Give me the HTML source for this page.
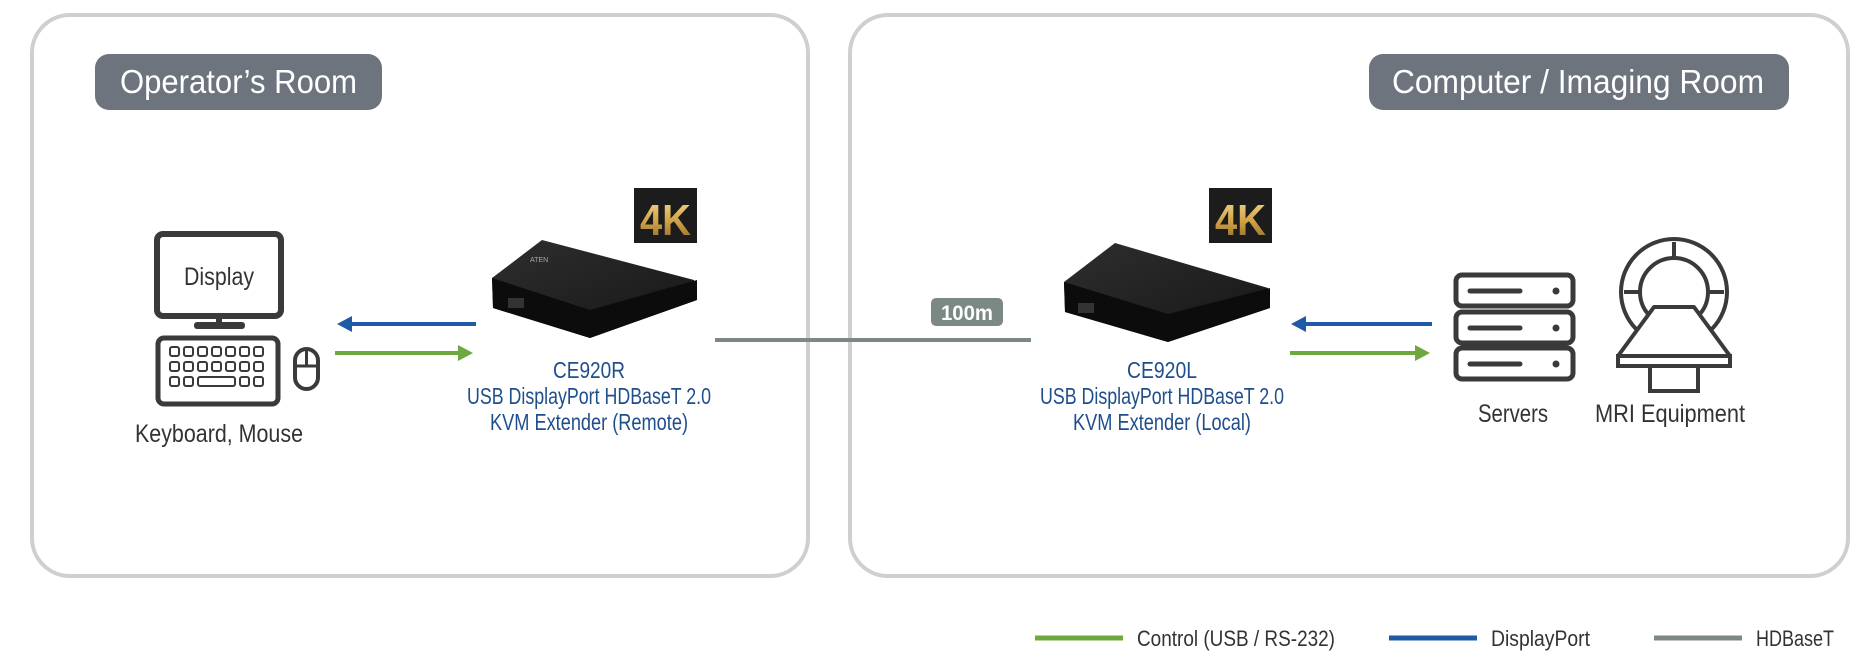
<!DOCTYPE html>
<html><head><meta charset="utf-8"><style>
html,body{margin:0;padding:0;background:#fff;width:1867px;height:672px;overflow:hidden}
svg{display:block}
text{font-family:"Liberation Sans Narrow","Liberation Sans",sans-serif}
</style></head><body>
<svg width="1867" height="672" viewBox="0 0 1867 672" xmlns="http://www.w3.org/2000/svg">
<defs>
<linearGradient id="gold" x1="0" y1="0" x2="0" y2="1"><stop offset="0" stop-color="#f6dc96"/><stop offset="0.5" stop-color="#d2a448"/><stop offset="1" stop-color="#8a6226"/></linearGradient>
<linearGradient id="top" x1="0" y1="0" x2="1" y2="1"><stop offset="0" stop-color="#2e2e2e"/><stop offset="1" stop-color="#161616"/></linearGradient>
</defs>
<rect x="32" y="15" width="776" height="561" rx="38" fill="#fff" stroke="#cfcfcf" stroke-width="4"/>
<rect x="850" y="15" width="998" height="561" rx="38" fill="#fff" stroke="#cfcfcf" stroke-width="4"/>
<rect x="95" y="54" width="287" height="56" rx="14" fill="#6e747d"/>
<text x="120" y="93" font-size="33" fill="#fff" textLength="237" lengthAdjust="spacingAndGlyphs">Operator’s Room</text>
<rect x="1369" y="54" width="420" height="56" rx="14" fill="#6e747d"/>
<text x="1392" y="93" font-size="33" fill="#fff" textLength="372" lengthAdjust="spacingAndGlyphs">Computer / Imaging Room</text>

<rect x="157" y="234" width="124" height="82" rx="6" fill="#fff" stroke="#3a3a3a" stroke-width="6"/>
<text x="219" y="285" font-size="25" fill="#333" text-anchor="middle" textLength="70" lengthAdjust="spacingAndGlyphs">Display</text>
<rect x="216" y="316" width="6" height="9" fill="#3a3a3a"/>
<rect x="194" y="322" width="51" height="7" rx="3" fill="#3a3a3a"/>
<rect x="158" y="338" width="120" height="66" rx="6" fill="#fff" stroke="#3a3a3a" stroke-width="5"/>
<g fill="none" stroke="#3a3a3a" stroke-width="2">
<rect x="170" y="347" width="9" height="9" rx="2"/><rect x="184" y="347" width="9" height="9" rx="2"/><rect x="198" y="347" width="9" height="9" rx="2"/><rect x="212" y="347" width="9" height="9" rx="2"/><rect x="226" y="347" width="9" height="9" rx="2"/><rect x="240" y="347" width="9" height="9" rx="2"/><rect x="254" y="347" width="9" height="9" rx="2"/>
<rect x="170" y="362" width="9" height="9" rx="2"/><rect x="184" y="362" width="9" height="9" rx="2"/><rect x="198" y="362" width="9" height="9" rx="2"/><rect x="212" y="362" width="9" height="9" rx="2"/><rect x="226" y="362" width="9" height="9" rx="2"/><rect x="240" y="362" width="9" height="9" rx="2"/><rect x="254" y="362" width="9" height="9" rx="2"/>
<rect x="170" y="377" width="9" height="9" rx="2"/><rect x="184" y="377" width="9" height="9" rx="2"/><rect x="198" y="377" width="37" height="9" rx="2"/><rect x="240" y="377" width="9" height="9" rx="2"/><rect x="254" y="377" width="9" height="9" rx="2"/>
</g>
<rect x="295" y="349" width="23" height="40" rx="11.5" fill="#fff" stroke="#3a3a3a" stroke-width="4"/>
<line x1="295" y1="366" x2="318" y2="366" stroke="#3a3a3a" stroke-width="3"/>
<line x1="306.5" y1="350" x2="306.5" y2="366" stroke="#3a3a3a" stroke-width="3"/>
<text x="219" y="442" font-size="25" fill="#333" text-anchor="middle" textLength="168" lengthAdjust="spacingAndGlyphs">Keyboard, Mouse</text>

<line x1="476" y1="324" x2="350" y2="324" stroke="#1f5aa6" stroke-width="4"/>
<path d="M337,324 L352,316 L352,332 z" fill="#1f5aa6"/>
<line x1="335" y1="353" x2="460" y2="353" stroke="#6fa83f" stroke-width="4"/>
<path d="M473,353 L458,345 L458,361 z" fill="#6fa83f"/>

<rect x="634" y="188" width="63" height="55" fill="#1c1c1c"/>
<text x="640" y="235" font-size="44" font-weight="bold" fill="url(#gold)" font-family="Liberation Sans" textLength="51" lengthAdjust="spacingAndGlyphs">4K</text>
<rect x="1209" y="188" width="63" height="55" fill="#1c1c1c"/>
<text x="1215" y="235" font-size="44" font-weight="bold" fill="url(#gold)" font-family="Liberation Sans" textLength="51" lengthAdjust="spacingAndGlyphs">4K</text>

<path d="M542,240 L694,280 L697,300 L590,338 L493,308 L492,278 z" fill="url(#top)"/>
<path d="M492,278 L590,310 L697,280 L697,300 L590,338 L493,308 z" fill="#0c0c0c"/>
<rect x="508" y="298" width="16" height="10" fill="#333"/>
<text x="530" y="262" font-size="7" fill="#aaa" font-family="Liberation Sans">ATEN</text>
<path d="M1115,243 L1268,288 L1270,308 L1168,342 L1065,312 L1064,282 z" fill="url(#top)"/>
<path d="M1064,282 L1168,314 L1270,288 L1270,308 L1168,342 L1065,312 z" fill="#0c0c0c"/>
<rect x="1078" y="303" width="16" height="10" fill="#333"/>

<g fill="#1f4e8c" text-anchor="middle" font-size="23">
<text x="589" y="378" textLength="72" lengthAdjust="spacingAndGlyphs">CE920R</text>
<text x="589" y="404" textLength="244" lengthAdjust="spacingAndGlyphs">USB DisplayPort HDBaseT 2.0</text>
<text x="589" y="430" textLength="198" lengthAdjust="spacingAndGlyphs">KVM Extender (Remote)</text>
<text x="1162" y="378" textLength="70" lengthAdjust="spacingAndGlyphs">CE920L</text>
<text x="1162" y="404" textLength="244" lengthAdjust="spacingAndGlyphs">USB DisplayPort HDBaseT 2.0</text>
<text x="1162" y="430" textLength="178" lengthAdjust="spacingAndGlyphs">KVM Extender (Local)</text>
</g>

<line x1="715" y1="340" x2="1031" y2="340" stroke="#7b8884" stroke-width="4"/>
<rect x="931" y="298" width="72" height="28" rx="5" fill="#7b8884"/>
<text x="967" y="320" font-size="21" fill="#fff" text-anchor="middle" font-weight="bold" textLength="52" lengthAdjust="spacingAndGlyphs">100m</text>

<line x1="1432" y1="324" x2="1305" y2="324" stroke="#1f5aa6" stroke-width="4"/>
<path d="M1291,324 L1306,316 L1306,332 z" fill="#1f5aa6"/>
<line x1="1290" y1="353" x2="1416" y2="353" stroke="#6fa83f" stroke-width="4"/>
<path d="M1430,353 L1415,345 L1415,361 z" fill="#6fa83f"/>

<g fill="#fff" stroke="#3a3a3a" stroke-width="5">
<rect x="1456" y="275" width="117" height="31" rx="6"/>
<rect x="1456" y="312" width="117" height="31" rx="6"/>
<rect x="1456" y="348" width="117" height="31" rx="6"/>
</g>
<g stroke="#3a3a3a" stroke-width="5" stroke-linecap="round">
<line x1="1470" y1="291" x2="1520" y2="291"/><line x1="1470" y1="328" x2="1520" y2="328"/><line x1="1470" y1="364" x2="1520" y2="364"/>
</g>
<g fill="#3a3a3a"><circle cx="1556" cy="291" r="3.5"/><circle cx="1556" cy="328" r="3.5"/><circle cx="1556" cy="364" r="3.5"/></g>
<text x="1513" y="422" font-size="25" fill="#333" text-anchor="middle" textLength="70" lengthAdjust="spacingAndGlyphs">Servers</text>

<g fill="none" stroke="#3a3a3a" stroke-width="4">
<circle cx="1674" cy="292" r="53"/>
<circle cx="1674" cy="292" r="34"/>
<line x1="1674" y1="242" x2="1674" y2="258"/>
<line x1="1624" y1="292" x2="1640" y2="292"/>
<line x1="1708" y1="292" x2="1724" y2="292"/>
</g>
<path d="M1654,307 L1694,307 L1730,356 L1618,356 z" fill="#fff" stroke="#3a3a3a" stroke-width="4" stroke-linejoin="round"/>
<rect x="1618" y="356" width="112" height="10" fill="#fff" stroke="#3a3a3a" stroke-width="4"/>
<rect x="1650" y="366" width="48" height="25" fill="#fff" stroke="#3a3a3a" stroke-width="4"/>
<text x="1670" y="422" font-size="25" fill="#333" text-anchor="middle" textLength="150" lengthAdjust="spacingAndGlyphs">MRI Equipment</text>

<line x1="1035" y1="638" x2="1123" y2="638" stroke="#6fa83f" stroke-width="5"/>
<text x="1137" y="646" font-size="22" fill="#333" textLength="198" lengthAdjust="spacingAndGlyphs">Control (USB / RS-232)</text>
<line x1="1389" y1="638" x2="1477" y2="638" stroke="#1f5aa6" stroke-width="5"/>
<text x="1491" y="646" font-size="22" fill="#333" textLength="99" lengthAdjust="spacingAndGlyphs">DisplayPort</text>
<line x1="1654" y1="638" x2="1742" y2="638" stroke="#7b8884" stroke-width="5"/>
<text x="1756" y="646" font-size="22" fill="#333" textLength="78" lengthAdjust="spacingAndGlyphs">HDBaseT</text>
</svg>
</body></html>
